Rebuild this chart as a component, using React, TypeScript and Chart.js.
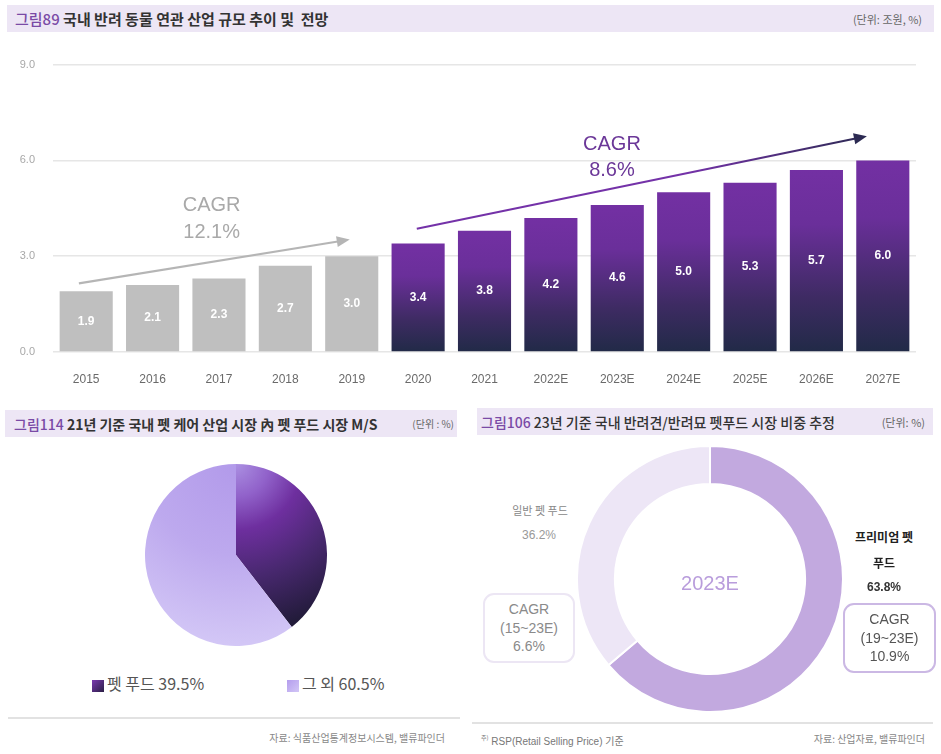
import React, { useEffect, useRef } from 'react';
import { Chart, registerables } from 'chart.js';

Chart.register(...registerables);

const FONT = '"Liberation Sans", "Noto Sans CJK KR", sans-serif';
const KFONT = '"Noto Sans CJK KR", "Liberation Sans", sans-serif';

// ---- Chart 1: 국내 반려 동물 연관 산업 규모 (조원)
const years = ['2015', '2016', '2017', '2018', '2019', '2020', '2021', '2022E', '2023E', '2024E', '2025E', '2026E', '2027E'];
const marketSize = [1.9, 2.1, 2.3, 2.7, 3.0, 3.4, 3.8, 4.2, 4.6, 5.0, 5.3, 5.7, 6.0];
const grayCount = 5; // 2015-2019 shown in gray
const yMax = 9;
const yStep = 3;

// CAGR notes (in category-index / value coordinates)
const cagrNotes = [
  { from: [-0.11, 2.15], to: [3.97, 3.52], color: '#b5b5b5', head: '#b5b5b5', lines: ['CAGR', '12.1%'], at: [1.89, 4.58, 3.74], text: '#a9a9a9' },
  { from: [4.98, 3.86], to: [11.76, 6.76], color: '#7432a8', head: '#2c2a52', lines: ['CAGR', '8.6%'], at: [7.92, 6.51, 5.67], text: '#6b3798' },
];

// ---- Chart 2: 펫 케어 산업 내 펫 푸드 M/S (%)
const careLabels = ['펫 푸드', '그 외'];
const careShares = [39.5, 60.5];

// ---- Chart 3: 반려견/반려묘 펫푸드 시장 비중 (%)
const foodLabels = ['프리미엄 펫 푸드', '일반 펫 푸드'];
const foodShares = [63.8, 36.2];
const foodColors = ['#c2a9df', '#ede6f6'];

function BarChart() {
  const ref = useRef<HTMLCanvasElement>(null);
  useEffect(() => {
    const valueLabels = {
      id: 'valueLabels',
      afterDatasetsDraw(chart: any) {
        const { ctx } = chart;
        const meta = chart.getDatasetMeta(0);
        ctx.save();
        ctx.font = `bold 12px ${FONT}`;
        ctx.fillStyle = '#ffffff';
        ctx.textAlign = 'center';
        ctx.textBaseline = 'middle';
        meta.data.forEach((bar: any, i: number) => {
          const yMid = (bar.y + bar.base) / 2;
          ctx.fillText(marketSize[i].toFixed(1), bar.x, yMid);
        });
        ctx.restore();
      },
    };
    const cagrPlugin = {
      id: 'cagr',
      afterDatasetsDraw(chart: any) {
        const { ctx } = chart;
        const xs = chart.scales.x;
        const ys = chart.scales.y;
        const x0 = xs.getPixelForValue(0);
        const dx = xs.getPixelForValue(1) - x0;
        const px = (i: number) => x0 + i * dx;
        const py = (v: number) => ys.getPixelForValue(v);
        ctx.save();
        cagrNotes.forEach((n) => {
          const ax = px(n.from[0]), ay = py(n.from[1]);
          const bx = px(n.to[0]), by = py(n.to[1]);
          const ang = Math.atan2(by - ay, bx - ax);
          const hl = 13, hw = 5.5;
          const ex = bx - Math.cos(ang) * hl * 0.8, ey = by - Math.sin(ang) * hl * 0.8;
          const g = ctx.createLinearGradient(ax, ay, bx, by);
          g.addColorStop(0, n.color);
          g.addColorStop(0.6, n.color);
          g.addColorStop(1, n.head);
          ctx.strokeStyle = g;
          ctx.lineWidth = 2.2;
          ctx.beginPath();
          ctx.moveTo(ax, ay);
          ctx.lineTo(ex, ey);
          ctx.stroke();
          ctx.fillStyle = n.head;
          ctx.beginPath();
          ctx.moveTo(bx, by);
          ctx.lineTo(bx - Math.cos(ang) * hl - Math.sin(ang) * hw, by - Math.sin(ang) * hl + Math.cos(ang) * hw);
          ctx.lineTo(bx - Math.cos(ang) * hl + Math.sin(ang) * hw, by - Math.sin(ang) * hl - Math.cos(ang) * hw);
          ctx.closePath();
          ctx.fill();
          ctx.font = `20px ${FONT}`;
          ctx.fillStyle = n.text;
          ctx.textAlign = 'center';
          ctx.textBaseline = 'middle';
          ctx.fillText(n.lines[0], px(n.at[0]), py(n.at[1]));
          ctx.fillText(n.lines[1], px(n.at[0]), py(n.at[2]));
        });
        ctx.restore();
      },
    };
    const chart = new Chart(ref.current!, {
      type: 'bar',
      data: {
        labels: years,
        datasets: [
          {
            data: marketSize,
            barPercentage: 0.8,
            categoryPercentage: 1.0,
            borderWidth: 0,
            backgroundColor: (c: any) => {
              const i = c.dataIndex;
              if (i < grayCount) return '#bfbfbf';
              const ch = c.chart;
              if (!ch.chartArea || !ch.scales.y) return '#6a2e98';
              const top = ch.scales.y.getPixelForValue(marketSize[i]);
              const bottom = ch.scales.y.getPixelForValue(0);
              const g = ch.ctx.createLinearGradient(0, top, 0, bottom);
              g.addColorStop(0, '#7330a3');
              g.addColorStop(0.3, '#6a2f9a');
              g.addColorStop(0.7, '#3e2b63');
              g.addColorStop(1, '#212a47');
              return g;
            },
          },
        ],
      },
      options: {
        animation: false,
        responsive: false,
        maintainAspectRatio: false,
        layout: { padding: { top: 22, right: 25, left: 0, bottom: 0 } },
        plugins: { legend: { display: false }, tooltip: { enabled: false } },
        scales: {
          x: {
            grid: { display: false },
            border: { display: false },
            ticks: { color: '#6a6a6a', font: { family: FONT, size: 12 }, padding: 12 },
            afterFit: (s: any) => { s.height = 38; },
          },
          y: {
            min: 0,
            max: yMax,
            ticks: {
              stepSize: yStep,
              color: '#a8a8a8',
              font: { family: FONT, size: 11 },
              padding: 18,
              callback: (v: any) => Number(v).toFixed(1),
            },
            grid: { color: '#e6e6e6', lineWidth: 1.5, drawTicks: false },
            border: { display: false },
            afterFit: (s: any) => { s.width = 53; },
          },
        },
      },
      plugins: [valueLabels, cagrPlugin],
    });
    return () => chart.destroy();
  }, []);
  return <canvas ref={ref} width={941} height={350} style={{ position: 'absolute', left: 0, top: 40, width: 941, height: 350 }} />;
}

function PieChart() {
  const ref = useRef<HTMLCanvasElement>(null);
  useEffect(() => {
    const chart = new Chart(ref.current!, {
      type: 'pie',
      data: {
        labels: careLabels,
        datasets: [
          {
            data: careShares,
            borderWidth: 0,
            backgroundColor: (c: any) => {
              const ch = c.chart;
              const a = ch.chartArea;
              if (!a) return c.dataIndex === 0 ? '#6a2e98' : '#c0aef0';
              const cx = (a.left + a.right) / 2;
              const r = Math.min(a.right - a.left, a.bottom - a.top) / 2;
              const cy = (a.top + a.bottom) / 2 - r;
              const g = ch.ctx.createRadialGradient(cx, cy, 0, cx, cy, r * 2);
              if (c.dataIndex === 0) {
                g.addColorStop(0, '#ab90e2');
                g.addColorStop(0.18, '#9162ca');
                g.addColorStop(0.36, '#6e2f9f');
                g.addColorStop(0.62, '#48286f');
                g.addColorStop(0.92, '#221b3a');
              } else {
                g.addColorStop(0, '#b29aea');
                g.addColorStop(0.5, '#bda9ee');
                g.addColorStop(1, '#d3c7f6');
              }
              return g;
            },
          },
        ],
      },
      options: {
        animation: false,
        responsive: false,
        maintainAspectRatio: false,
        layout: { padding: 0 },
        plugins: { legend: { display: false }, tooltip: { enabled: false } },
      },
    });
    return () => chart.destroy();
  }, []);
  return <canvas ref={ref} width={182} height={182} style={{ position: 'absolute', left: 145, top: 464, width: 182, height: 182 }} />;
}

function DonutChart() {
  const ref = useRef<HTMLCanvasElement>(null);
  useEffect(() => {
    const chart = new Chart(ref.current!, {
      type: 'doughnut',
      data: {
        labels: foodLabels,
        datasets: [{ data: foodShares, backgroundColor: foodColors, borderColor: '#ffffff', borderWidth: 2 }],
      },
      options: {
        animation: false,
        responsive: false,
        maintainAspectRatio: false,
        cutout: '71.5%',
        layout: { padding: 0 },
        plugins: { legend: { display: false }, tooltip: { enabled: false } },
      },
    });
    return () => chart.destroy();
  }, []);
  return <canvas ref={ref} width={268} height={268} style={{ position: 'absolute', left: 576, top: 445, width: 268, height: 268 }} />;
}

const abs = (s: React.CSSProperties): React.CSSProperties => ({ position: 'absolute', ...s });

function TitleBar(props: { left: number; top: number; width: number; num: string; title: string; unit: string; size: number; unitSize: number; padL: number; padR: number; weight: number }) {
  return (
    <div style={abs({ left: props.left, top: props.top, width: props.width, height: 27, background: '#ede6f5', display: 'flex', alignItems: 'center', justifyContent: 'space-between', boxSizing: 'border-box', paddingLeft: props.padL, paddingRight: props.padR, whiteSpace: 'pre' })}>
      <span style={{ fontSize: props.size, fontFamily: KFONT }}>
        <span style={{ color: '#7a4aa6', fontWeight: 500 }}>{props.num}</span>
        <span style={{ color: '#333', fontWeight: props.weight }}> {props.title}</span>
      </span>
      <span style={{ fontSize: props.unitSize, color: '#666', fontFamily: KFONT }}>{props.unit}</span>
    </div>
  );
}

export default function App() {
  const center: React.CSSProperties = { textAlign: 'center', transform: 'translate(-50%, -50%)', whiteSpace: 'nowrap' };
  return (
    <div style={abs({ left: 0, top: 0, width: 941, height: 754, background: '#fff', fontFamily: KFONT, overflow: 'hidden' })}>
      <TitleBar left={7} top={5} width={927} num="그림89" title="국내 반려 동물 연관 산업 규모 추이 및  전망" unit="(단위: 조원, %)" size={15} unitSize={11} padL={8} padR={12} weight={700} />
      <BarChart />

      <TitleBar left={5} top={410} width={452} num="그림114" title="21년 기준 국내 펫 케어 산업 시장 內 펫 푸드 시장 M/S" unit="(단위 : %)" size={14} unitSize={10} padL={9} padR={3} weight={700} />
      <PieChart />
      <div style={abs({ left: 92, top: 680, width: 12, height: 12, background: 'linear-gradient(135deg, #7a38b0, #2a1f45)' })} />
      <div style={abs({ left: 107, top: 673, fontSize: 16, color: '#555', lineHeight: '20px', whiteSpace: 'nowrap' })}>펫 푸드 39.5%</div>
      <div style={abs({ left: 287, top: 680, width: 12, height: 12, background: 'linear-gradient(135deg, #b49ded, #d2c6f6)' })} />
      <div style={abs({ left: 302, top: 673, fontSize: 16, color: '#555', lineHeight: '20px', whiteSpace: 'nowrap' })}>그 외 60.5%</div>
      <div style={abs({ left: 8, top: 717, width: 452, height: 1.5, background: '#e2e2e2' })} />
      <div style={abs({ right: 941 - 445, top: 730, fontSize: 10, color: '#888', whiteSpace: 'nowrap' })}>자료: 식품산업통계정보시스템, 밸류파인더</div>

      <TitleBar left={477} top={408} width={456} num="그림106" title="23년 기준 국내 반려견/반려묘 펫푸드 시장 비중 추정" unit="(단위: %)" size={14} unitSize={11} padL={4} padR={8} weight={500} />
      <DonutChart />
      <div style={abs({ left: 710, top: 583, fontSize: 20, color: '#b99ddc', fontFamily: FONT, ...center })}>2023E</div>
      <div style={abs({ left: 540, top: 510, fontSize: 11, color: '#888', ...center })}>일반 펫 푸드</div>
      <div style={abs({ left: 539, top: 535, fontSize: 12, color: '#999', fontFamily: FONT, ...center })}>36.2%</div>
      <div style={abs({ left: 884, top: 536, fontSize: 12, color: '#222', fontWeight: 700, ...center })}>프리미엄 펫</div>
      <div style={abs({ left: 884, top: 562, fontSize: 12, color: '#222', fontWeight: 700, ...center })}>푸드</div>
      <div style={abs({ left: 884, top: 587, fontSize: 12, color: '#333', fontWeight: 700, fontFamily: FONT, ...center })}>63.8%</div>
      <div style={abs({ left: 483, top: 593, width: 92, height: 70, border: '2px solid #ece6f4', borderRadius: 11, boxSizing: 'border-box', display: 'flex', flexDirection: 'column', justifyContent: 'center', alignItems: 'center', fontSize: 14, lineHeight: '18.5px', color: '#8a8a8a', fontFamily: FONT })}>
        <div>CAGR</div>
        <div>(15~23E)</div>
        <div>6.6%</div>
      </div>
      <div style={abs({ left: 843, top: 603, width: 93, height: 70, border: '2px solid #cbb8e4', borderRadius: 11, boxSizing: 'border-box', display: 'flex', flexDirection: 'column', justifyContent: 'center', alignItems: 'center', fontSize: 14, lineHeight: '18.5px', color: '#555', fontFamily: FONT })}>
        <div>CAGR</div>
        <div>(19~23E)</div>
        <div>10.9%</div>
      </div>
      <div style={abs({ left: 472, top: 722, width: 461, height: 1.5, background: '#e2e2e2' })} />
      <div style={abs({ left: 481, top: 733, fontSize: 10, color: '#777', whiteSpace: 'nowrap', fontFamily: FONT })}>
        <span style={{ fontSize: 6, verticalAlign: 'top', fontFamily: KFONT }}>주)</span> RSP(Retail Selling Price) <span style={{ fontFamily: KFONT }}>기준</span>
      </div>
      <div style={abs({ right: 941 - 925, top: 731, fontSize: 10, color: '#888', whiteSpace: 'nowrap' })}>자료: 산업자료, 밸류파인더</div>
    </div>
  );
}
